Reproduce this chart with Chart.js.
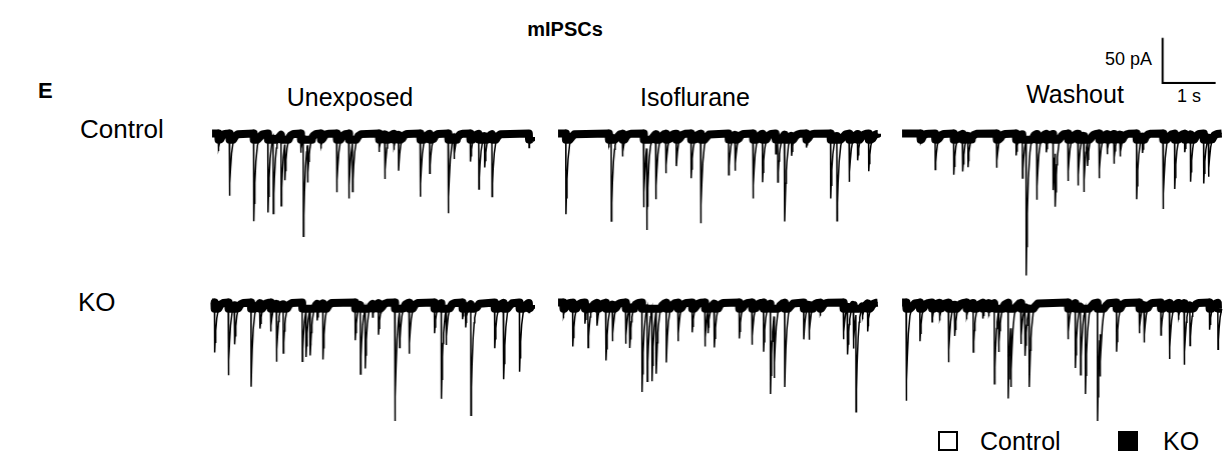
<!DOCTYPE html>
<html>
<head>
<meta charset="utf-8">
<script src="https://cdn.jsdelivr.net/npm/chart.js@4.4.1/dist/chart.umd.min.js"></script>
<style>
  body { margin: 0; background: #fff; }
  #fig { position: relative; width: 1232px; height: 457px; overflow: hidden; font-family: "Liberation Sans", Arial, sans-serif; color: #000; }
  .t { position: absolute; white-space: nowrap; line-height: 1; }
  .c { transform: translateX(-50%); }
  .panel { position: absolute; }
  .sq { position: absolute; box-sizing: border-box; width: 20px; height: 20px; border: 2px solid #000; }
</style>
</head>
<body>
<div id="fig">
  <div class="t c" style="left:565px; top:19px; font-size:20px; font-weight:bold;">mIPSCs</div>
  <div class="t" style="left:38px; top:80px; font-size:22px; font-weight:bold;">E</div>
  <div class="t c" style="left:350px; top:85px; font-size:25px;">Unexposed</div>
  <div class="t c" style="left:695px; top:85px; font-size:25px;">Isoflurane</div>
  <div class="t c" style="left:1075px; top:82px; font-size:25px;">Washout</div>
  <div class="t" style="left:80px; top:116px; font-size:26px;">Control</div>
  <div class="t" style="left:78px; top:289px; font-size:26px;">KO</div>
  <div class="t" style="left:1105px; top:50px; font-size:18px;">50 pA</div>
  <div class="t c" style="left:1189px; top:87px; font-size:18px;">1 s</div>
  <div class="sq" style="left:938px; top:431px;"></div>
  <div class="t" style="left:980px; top:429px; font-size:25px;">Control</div>
  <div class="sq" style="left:1118px; top:431px; background:#000;"></div>
  <div class="t" style="left:1163px; top:429px; font-size:25px;">KO</div>
</div>
<script>
'use strict';

// events: [time (s), amplitude (pA)]
const ctrlUnexposed = [
  [0.12, 20], [0.33, 71], [0.79, 100], [1.06, 90], [1.16, 86], [1.31, 81], [1.38, 42],
  [1.68, 22], [1.73, 112], [1.81, 44], [2.06, 17], [2.36, 67], [2.59, 74], [2.66, 56],
  [3.16, 21], [3.27, 51], [3.44, 18], [3.53, 41], [3.94, 72], [4.12, 45], [4.47, 91],
  [4.58, 25], [4.89, 32], [5.05, 63], [5.16, 36], [5.30, 71], [6.00, 16],
];
const ctrlIsoflurane = [
  [0.15, 92], [0.96, 16], [1.01, 96], [1.22, 26], [1.62, 84], [1.68, 95], [1.85, 74],
  [2.04, 45], [2.24, 37], [2.52, 51], [2.70, 102], [3.23, 47], [3.35, 41], [3.69, 74],
  [3.87, 55], [4.12, 23], [4.16, 48], [4.29, 99], [4.42, 23], [4.70, 16], [5.16, 74],
  [5.28, 97], [5.51, 55], [5.67, 30], [5.88, 43],
];
const ctrlWashout = [
  [0.35, 12], [0.63, 41], [0.98, 47], [1.15, 43], [1.25, 36], [1.79, 39], [2.16, 25],
  [2.28, 50], [2.35, 155], [2.55, 75], [2.73, 21], [2.86, 64], [2.90, 63], [3.14, 54],
  [3.33, 59], [3.44, 64], [3.51, 28], [3.73, 51], [3.88, 23], [4.01, 34], [4.13, 25],
  [4.44, 75], [4.55, 19], [4.94, 86], [5.16, 63], [5.35, 21], [5.46, 54], [5.71, 57],
  [5.80, 45],
];
const koUnexposed = [
  [0.05, 57], [0.31, 83], [0.43, 45], [0.74, 96], [0.91, 29], [1.11, 33], [1.22, 66],
  [1.35, 56], [1.71, 67], [1.78, 53], [1.86, 54], [1.99, 19], [2.10, 64], [2.71, 43],
  [2.81, 79], [2.90, 69], [3.04, 15], [3.15, 36], [3.46, 135], [3.55, 41], [3.73, 58],
  [4.21, 35], [4.34, 109], [4.43, 40], [4.74, 19], [4.80, 25], [4.90, 127], [5.35, 52],
  [5.52, 87], [5.82, 79], [6.00, 11],
];
const koIsoflurane = [
  [0.10, 18], [0.28, 50], [0.51, 24], [0.57, 47], [0.74, 26], [0.91, 66], [1.03, 42],
  [1.28, 47], [1.36, 47], [1.59, 102], [1.69, 84], [1.78, 83], [1.86, 72], [2.05, 68],
  [2.27, 44], [2.54, 34], [2.78, 50], [2.84, 26], [2.96, 50], [3.43, 41], [3.67, 48],
  [3.89, 56], [4.02, 103], [4.09, 72], [4.29, 96], [4.65, 42], [4.75, 40], [4.96, 15],
  [5.40, 42], [5.48, 55], [5.59, 50], [5.64, 112], [5.76, 15], [5.86, 32],
];
const koWashout = [
  [0.08, 112], [0.34, 44], [0.57, 22], [0.71, 20], [0.88, 68], [1.00, 36], [1.22, 19],
  [1.35, 56], [1.53, 18], [1.64, 15], [1.75, 92], [1.83, 47], [2.01, 109], [2.06, 70],
  [2.25, 47], [2.33, 56], [2.41, 90], [3.14, 42], [3.28, 74], [3.38, 78], [3.47, 98],
  [3.70, 135], [3.75, 52], [4.06, 56], [4.49, 35], [4.58, 43], [4.90, 37], [5.06, 64],
  [5.23, 19], [5.34, 70], [5.45, 46], [5.82, 31], [5.98, 53],
];

// scale bar: 50 pA by 1 s
const barTimes = [0, 0, 1];
const barCurrents = [50, 0, 0];

const PX_PER_S = 54;
const PX_PER_PA = 0.92;
const T_END = 6.05;
const Y_MIN = -175, Y_MAX = 12;
const TAU = 0.035;
const BAND_CLIP = 7;

const colLeft = [208, 554, 898];
const rowBase = [130, 299];

const panels = [
  { events: ctrlUnexposed, col: 0, row: 0 },
  { events: ctrlIsoflurane, col: 1, row: 0 },
  { events: ctrlWashout, col: 2, row: 0 },
  { events: koUnexposed, col: 0, row: 1 },
  { events: koIsoflurane, col: 1, row: 1 },
  { events: koWashout, col: 2, row: 1 },
];

function kernel(dt) {
  if (dt < -0.004) return 0;
  if (dt < 0) return 1 + dt / 0.004;
  return Math.exp(-dt / TAU);
}

function buildTrace(events) {
  const offs = [-0.004, 0, 0.008, 0.02, 0.04, 0.07, 0.11, 0.16];
  const ts = new Set([0, T_END]);
  events.forEach(([t]) => offs.forEach(o => {
    const v = +(t + o).toFixed(4);
    if (v >= 0 && v <= T_END) ts.add(v);
  }));
  return [...ts].sort((a, b) => a - b).map(t => ({
    x: t,
    y: -events.reduce((s, [ti, a]) => s + a * kernel(t - ti), 0),
  }));
}

const fig = document.getElementById('fig');

function addCanvas(left, top, w, h) {
  const div = document.createElement('div');
  div.className = 'panel';
  div.style.cssText = `left:${left}px; top:${top}px; width:${w}px; height:${h}px;`;
  const cv = document.createElement('canvas');
  div.appendChild(cv);
  fig.appendChild(div);
  return cv;
}

const baseOptions = (xmin, xmax, ymin, ymax) => ({
  responsive: true,
  maintainAspectRatio: false,
  animation: false,
  events: [],
  layout: { padding: 0 },
  elements: { point: { radius: 0 }, line: { tension: 0, borderCapStyle: 'butt' } },
  scales: {
    x: { type: 'linear', min: xmin, max: xmax, display: false },
    y: { type: 'linear', min: ymin, max: ymax, display: false },
  },
  plugins: { legend: { display: false }, tooltip: { enabled: false } },
});

panels.forEach(p => {
  const trace = buildTrace(p.events);
  const band = trace.map(pt => ({ x: pt.x, y: Math.max(pt.y, -BAND_CLIP) }));
  const w = T_END * PX_PER_S;
  const h = (Y_MAX - Y_MIN) * PX_PER_PA;
  const cv = addCanvas(colLeft[p.col], rowBase[p.row] - Y_MAX * PX_PER_PA, w, h);
  new Chart(cv, {
    type: 'line',
    data: {
      datasets: [
        { data: band, borderColor: '#000', borderWidth: 8, borderJoinStyle: 'round', clip: 8 },
        { data: trace, borderColor: '#000', borderWidth: 1.5, clip: 8 },
      ],
    },
    options: baseOptions(0, T_END, Y_MIN, Y_MAX),
  });
});

// scale bar through its own scales, same px per unit as the traces
{
  const xmin = -0.03, xmax = 1.03, ymin = -2, ymax = 52;
  const cv = addCanvas(1162 - (0 - xmin) * PX_PER_S, 83 - ymax * PX_PER_PA,
    (xmax - xmin) * PX_PER_S, (ymax - ymin) * PX_PER_PA);
  new Chart(cv, {
    type: 'line',
    data: {
      datasets: [{
        data: barTimes.map((t, i) => ({ x: t, y: barCurrents[i] })),
        borderColor: '#000', borderWidth: 2, borderJoinStyle: 'miter',
      }],
    },
    options: baseOptions(xmin, xmax, ymin, ymax),
  });
}
</script>
</body>
</html>
